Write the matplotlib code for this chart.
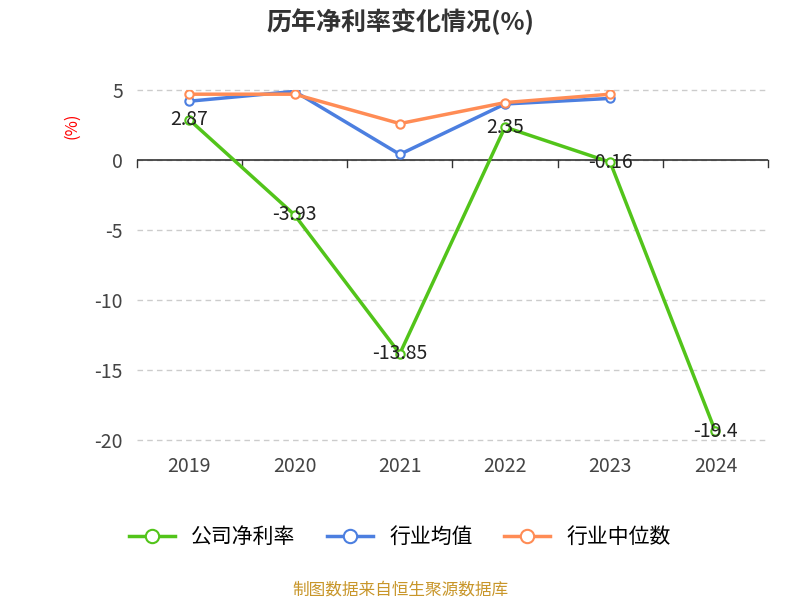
import matplotlib
matplotlib.use("Agg")
import matplotlib.pyplot as plt
from matplotlib import font_manager as fm

cjk = [f.name for f in fm.fontManager.ttflist if "CJK" in f.name]
pref = [n for n in cjk if "SC" in n] or cjk
plt.rcParams["font.family"] = (pref[:1] if pref else []) + ["DejaVu Sans"]

years = ["2019", "2020", "2021", "2022", "2023", "2024"]
company = [2.87, -3.93, -13.85, 2.35, -0.16, -19.4]
company_labels = ["2.87", "-3.93", "-13.85", "2.35", "-0.16", "-19.4"]
ind_mean = [4.2, 4.9, 0.4, 4.0, 4.4]
ind_median = [4.7, 4.7, 2.6, 4.1, 4.7]
yticks = [5, 0, -5, -10, -15, -20]

fig = plt.figure(figsize=(8, 6), dpi=100)
ax = fig.add_axes([0.171, 0.267, 0.789, 0.583])
x = list(range(len(years)))

ax.plot(x, company, color="#52c41a", lw=2.5, marker="o", ms=6, mfc="white", mew=1.5, label="公司净利率", zorder=3)
ax.plot(x[:5], ind_mean, color="#4c7fe0", lw=2.5, marker="o", ms=6, mfc="white", mew=1.5, label="行业均值", zorder=3)
ax.plot(x[:5], ind_median, color="#ff8c55", lw=2.5, marker="o", ms=6, mfc="white", mew=1.5, label="行业中位数", zorder=3)

for xi, v, t in zip(x, company, company_labels):
    ax.text(xi, v, t, ha="center", va="center", fontsize=14, color="#222222", zorder=4)

ax.set_xlim(-0.5, len(years) - 0.5)
ax.set_ylim(-20, 5)
ax.set_yticks(yticks)
ax.set_yticklabels([str(v) for v in yticks], fontsize=14, color="#444444")
ax.set_xticks(x)
ax.set_xticklabels(years, fontsize=14, color="#444444")
for v in yticks:
    ax.axhline(v, color="#cccccc", ls=(0, (4, 3)), lw=1, zorder=1, clip_on=False)
for s in ["top", "right", "left", "bottom"]:
    ax.spines[s].set_visible(False)
ax.axhline(0, color="#333333", lw=1.2, zorder=2)
for b in [i - 0.5 for i in range(len(years) + 1)]:
    ax.plot([b, b], [0, -0.5], color="#333333", lw=1, zorder=2, clip_on=False)
ax.tick_params(axis="both", length=0, pad=10)
ax.tick_params(axis="x", pad=12)

fig.text(0.09, 0.79, "(%)", color="red", rotation=90, fontsize=12, ha="center", va="center")
fig.text(0.5, 0.963, "历年净利率变化情况(%)", fontsize=18, fontweight="bold", ha="center", va="center", color="#333333")
fig.legend(loc="center", bbox_to_anchor=(0.5, 0.105), ncol=3, frameon=False, fontsize=15,
           handlelength=2.2, columnspacing=1.5, markerscale=1.6)
fig.text(0.5, 0.017, "制图数据来自恒生聚源数据库", fontsize=12, color="#c8962a", ha="center", va="center")
fig.savefig("out.png", dpi=100)
